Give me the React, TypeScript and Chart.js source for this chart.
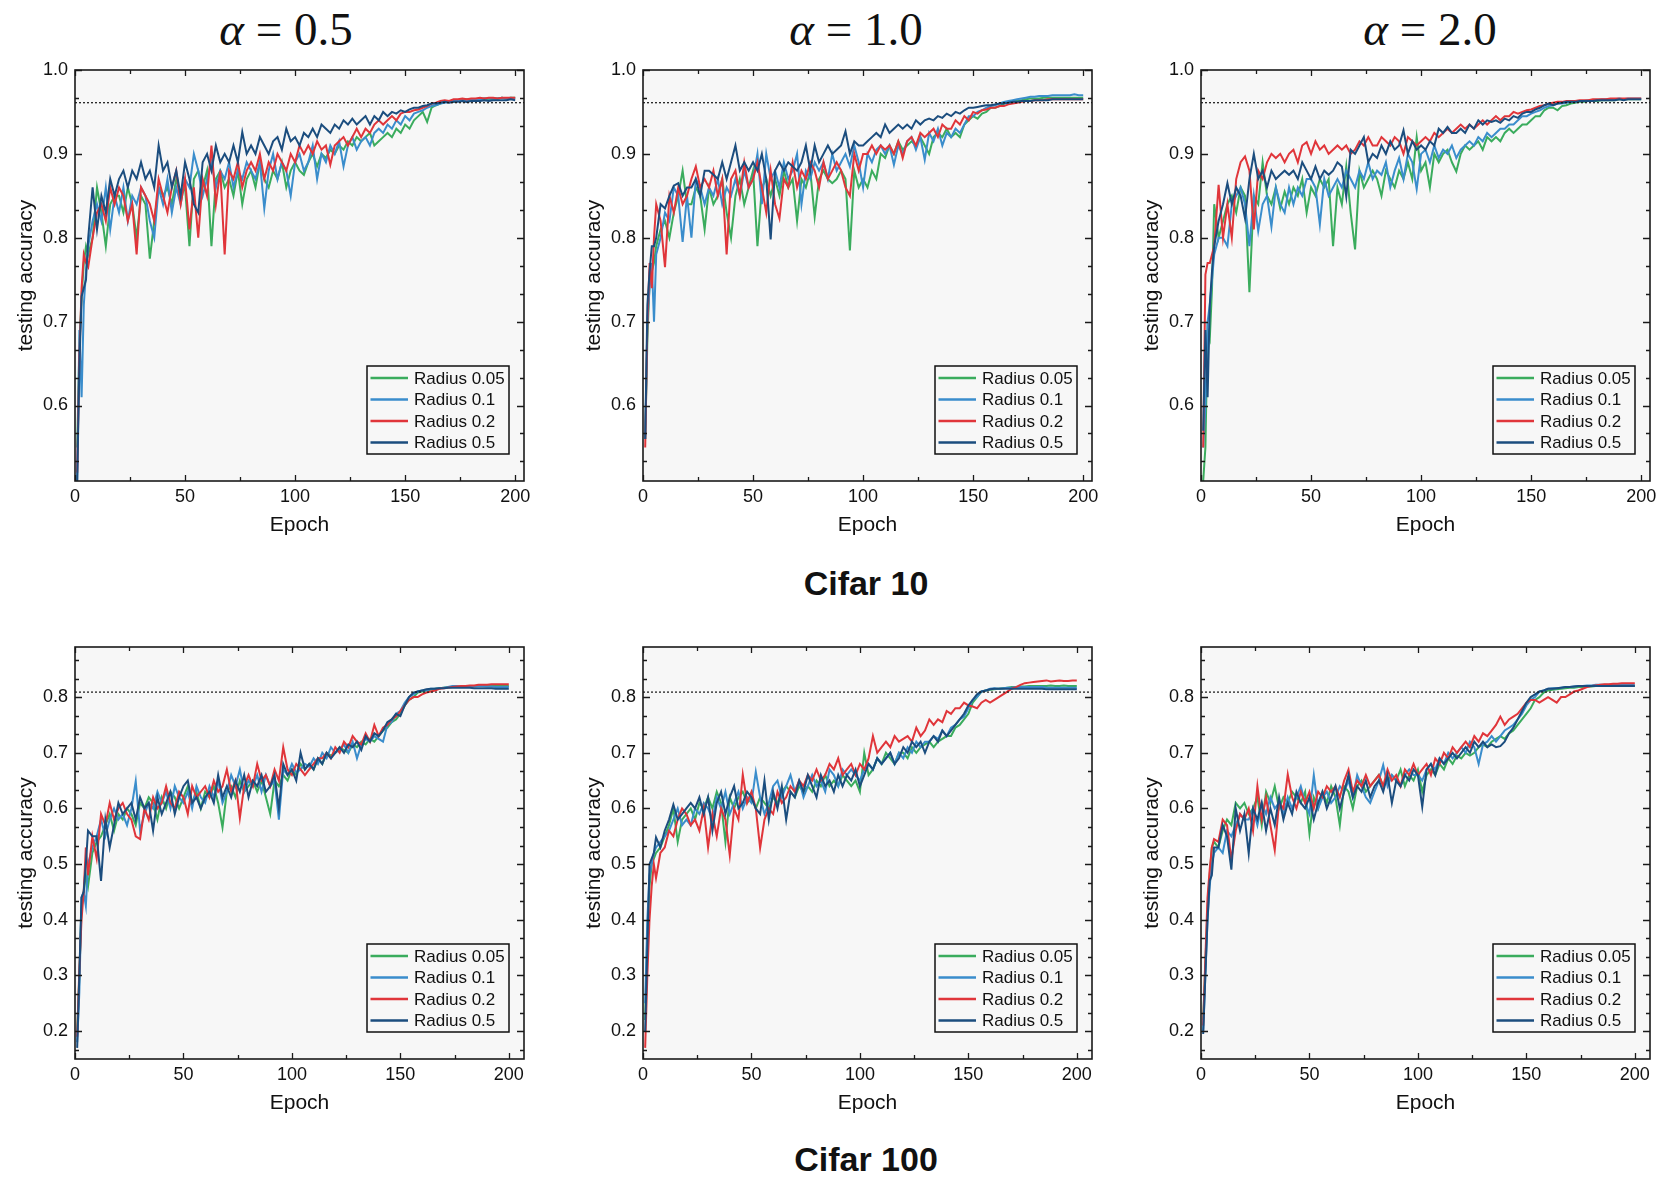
import React, { useEffect, useRef } from 'react';
import { Chart, registerables } from 'chart.js';

Chart.register(...registerables);
Chart.defaults.font.family = '"Liberation Sans", Arial, Helvetica, sans-serif';
Chart.defaults.color = '#111';

// ---------- shared axis / legend data ----------
const EPOCHS = [1, 2, 3, 4, 5, 6, 8, 10, 12, 14, 16, 18, 20,
  22, 24, 26, 28, 30, 32, 34, 36, 38, 40,
  42, 44, 46, 48, 50, 52, 54, 56, 58, 60,
  62, 64, 66, 68, 70, 72, 74, 76, 78, 80,
  82, 84, 86, 88, 90, 92, 94, 96, 98, 100,
  102, 104, 106, 108, 110, 112, 114, 116, 118, 120,
  122, 124, 126, 128, 130, 132, 134, 136, 138, 140,
  142, 144, 146, 148, 150, 152, 154, 156, 158, 160,
  162, 164, 166, 168, 170, 172, 174, 176, 178, 180,
  182, 184, 186, 188, 190, 192, 194, 196, 198, 200];

const RADIUS_LABELS = ['Radius 0.05', 'Radius 0.1', 'Radius 0.2', 'Radius 0.5'];
const SERIES_COLORS = ['#3aac5d', '#3a8dcc', '#e0353a', '#1b4d7e'];
const X_TICKS = [0, 50, 100, 150, 200];
const X_MINOR_TICKS = [25, 75, 125, 175];
const Y_TICKS_C10 = [0.6, 0.7, 0.8, 0.9, 1.0];
const Y_TICKS_C100 = [0.2, 0.3, 0.4, 0.5, 0.6, 0.7, 0.8];
const BASELINE_C10 = 0.961;
const BASELINE_C100 = 0.809;
const ALPHAS = ['0.5', '1.0', '2.0'];
const DATASET_NAMES = ['Cifar 10', 'Cifar 100'];

// ---------- Cifar 10, alpha = 0.5 ----------
const c10a05Green = [0.55, 0.67, 0.73, 0.77, 0.79, 0.78, 0.80, 0.86, 0.83, 0.79, 0.84, 0.85, 0.85,
  0.83, 0.86, 0.84, 0.80, 0.85, 0.84, 0.775, 0.82, 0.86, 0.85,
  0.86, 0.84, 0.87, 0.85, 0.86, 0.79, 0.87, 0.88, 0.86, 0.88,
  0.79, 0.87, 0.88, 0.86, 0.87, 0.85, 0.88, 0.84, 0.87, 0.88,
  0.86, 0.89, 0.87, 0.86, 0.88, 0.87, 0.89, 0.86, 0.88, 0.89,
  0.88, 0.875, 0.89, 0.90, 0.885, 0.90, 0.895, 0.905, 0.90, 0.91,
  0.905, 0.915, 0.91, 0.92, 0.915, 0.92, 0.925, 0.91, 0.915, 0.92,
  0.925, 0.92, 0.93, 0.925, 0.935, 0.93, 0.94, 0.945, 0.95, 0.938,
  0.955, 0.958, 0.96, 0.962, 0.963, 0.962, 0.964, 0.964, 0.965, 0.964,
  0.965, 0.965, 0.966, 0.965, 0.966, 0.966, 0.967, 0.966, 0.967, 0.967];
const c10a05Blue = [0.51, 0.69, 0.61, 0.72, 0.76, 0.79, 0.82, 0.84, 0.82, 0.86, 0.81, 0.85, 0.83,
  0.86, 0.82, 0.85, 0.84, 0.86, 0.85, 0.82, 0.80, 0.86, 0.84,
  0.87, 0.83, 0.86, 0.84, 0.87, 0.86, 0.90, 0.88, 0.85, 0.87,
  0.89, 0.86, 0.88, 0.87, 0.89, 0.86, 0.88, 0.87, 0.89, 0.88,
  0.87, 0.89, 0.835, 0.88, 0.90, 0.87, 0.89, 0.88, 0.85, 0.89,
  0.90, 0.88, 0.89, 0.91, 0.87, 0.90, 0.89, 0.91, 0.90, 0.915,
  0.885, 0.91, 0.92, 0.905, 0.915, 0.92, 0.91, 0.925, 0.93, 0.925,
  0.935, 0.93, 0.94, 0.935, 0.945, 0.94, 0.948, 0.95, 0.952, 0.955,
  0.957, 0.958, 0.96, 0.961, 0.962, 0.963, 0.963, 0.964, 0.964, 0.965,
  0.965, 0.965, 0.966, 0.966, 0.966, 0.966, 0.967, 0.966, 0.967, 0.966];
const c10a05Red = [0.52, 0.66, 0.74, 0.78, 0.77, 0.765, 0.80, 0.83, 0.84, 0.82, 0.86, 0.84, 0.86,
  0.85, 0.82, 0.84, 0.78, 0.86, 0.85, 0.84, 0.82, 0.87, 0.85,
  0.83, 0.86, 0.88, 0.84, 0.87, 0.81, 0.86, 0.80, 0.87, 0.85,
  0.91, 0.84, 0.88, 0.78, 0.88, 0.87, 0.89, 0.86, 0.88, 0.89,
  0.88, 0.90, 0.87, 0.89, 0.88, 0.90, 0.89, 0.88, 0.90, 0.89,
  0.91, 0.90, 0.91, 0.90, 0.915, 0.905, 0.91, 0.887, 0.91, 0.915,
  0.92, 0.91, 0.92, 0.93, 0.92, 0.93, 0.925, 0.935, 0.94, 0.935,
  0.94, 0.945, 0.94, 0.948, 0.95, 0.95, 0.952, 0.953, 0.955, 0.957,
  0.96, 0.961, 0.963, 0.964, 0.963, 0.965, 0.965, 0.966, 0.965, 0.966,
  0.966, 0.967, 0.966, 0.967, 0.967, 0.966, 0.967, 0.967, 0.967, 0.967];
const c10a05Navy = [0.51, 0.65, 0.73, 0.74, 0.75, 0.80, 0.86, 0.81, 0.85, 0.83, 0.87, 0.85, 0.87,
  0.88, 0.86, 0.88, 0.87, 0.89, 0.87, 0.88, 0.86, 0.91, 0.88,
  0.89, 0.86, 0.88, 0.85, 0.89, 0.87, 0.84, 0.83, 0.89, 0.90,
  0.88, 0.91, 0.89, 0.90, 0.89, 0.91, 0.89, 0.926, 0.90, 0.91,
  0.90, 0.92, 0.91, 0.90, 0.915, 0.92, 0.905, 0.93, 0.915, 0.92,
  0.91, 0.925, 0.92, 0.93, 0.92, 0.935, 0.93, 0.925, 0.935, 0.93,
  0.94, 0.935, 0.942, 0.935, 0.94, 0.945, 0.935, 0.945, 0.94, 0.95,
  0.945, 0.95, 0.948, 0.952, 0.95, 0.953, 0.955, 0.955, 0.957, 0.958,
  0.96, 0.96, 0.961, 0.962, 0.961, 0.962, 0.962, 0.963, 0.962, 0.963,
  0.963, 0.963, 0.964, 0.963, 0.964, 0.964, 0.964, 0.964, 0.965, 0.964];

// ---------- Cifar 10, alpha = 1.0 ----------
const c10a10Green = [0.56, 0.68, 0.75, 0.76, 0.77, 0.79, 0.81, 0.82, 0.80, 0.83, 0.85, 0.88, 0.84,
  0.84, 0.86, 0.85, 0.81, 0.86, 0.84, 0.85, 0.87, 0.83, 0.80,
  0.85, 0.87, 0.84, 0.86, 0.88, 0.79, 0.86, 0.87, 0.85, 0.87,
  0.85, 0.88, 0.86, 0.87, 0.82, 0.87, 0.86, 0.88, 0.825, 0.87,
  0.88, 0.87, 0.865, 0.87, 0.88, 0.87, 0.785, 0.88, 0.86, 0.87,
  0.86, 0.88, 0.87, 0.90, 0.895, 0.91, 0.90, 0.915, 0.905, 0.91,
  0.915, 0.91, 0.92, 0.91, 0.90, 0.92, 0.925, 0.92, 0.93, 0.92,
  0.925, 0.92, 0.935, 0.94, 0.945, 0.942, 0.948, 0.95, 0.955, 0.955,
  0.957, 0.96, 0.962, 0.963, 0.963, 0.964, 0.965, 0.966, 0.966, 0.966,
  0.967, 0.967, 0.967, 0.967, 0.967, 0.967, 0.967, 0.967, 0.967, 0.967];
const c10a10Blue = [0.56, 0.70, 0.74, 0.77, 0.70, 0.78, 0.80, 0.83, 0.82, 0.86, 0.85, 0.795, 0.85,
  0.80, 0.87, 0.86, 0.84, 0.86, 0.85, 0.87, 0.84, 0.86, 0.85,
  0.87, 0.85, 0.88, 0.86, 0.87, 0.90, 0.84, 0.90, 0.87, 0.88,
  0.86, 0.89, 0.87, 0.88, 0.90, 0.84, 0.88, 0.87, 0.89, 0.88,
  0.89, 0.87, 0.90, 0.88, 0.89, 0.90, 0.885, 0.91, 0.89, 0.86,
  0.90, 0.89, 0.905, 0.91, 0.90, 0.91, 0.887, 0.91, 0.90, 0.915,
  0.92, 0.905, 0.92, 0.893, 0.925, 0.915, 0.93, 0.91, 0.925, 0.92,
  0.93, 0.925, 0.935, 0.945, 0.945, 0.95, 0.952, 0.955, 0.957, 0.958,
  0.96, 0.962, 0.963, 0.964, 0.965, 0.966, 0.967, 0.968, 0.968, 0.969,
  0.969, 0.969, 0.97, 0.97, 0.97, 0.97, 0.97, 0.971, 0.97, 0.97];
const c10a10Red = [0.55, 0.70, 0.77, 0.74, 0.80, 0.84, 0.82, 0.765, 0.85, 0.83, 0.86, 0.84, 0.85,
  0.87, 0.885, 0.86, 0.87, 0.86, 0.88, 0.85, 0.87, 0.78, 0.87,
  0.88, 0.85, 0.89, 0.86, 0.87, 0.89, 0.86, 0.83, 0.88, 0.84,
  0.823, 0.87, 0.86, 0.89, 0.86, 0.88, 0.87, 0.89, 0.88, 0.86,
  0.89, 0.87, 0.88, 0.89, 0.88, 0.86, 0.85, 0.90, 0.88, 0.90,
  0.90, 0.91, 0.90, 0.91, 0.905, 0.91, 0.90, 0.915, 0.895, 0.915,
  0.92, 0.91, 0.925, 0.92, 0.925, 0.93, 0.92, 0.935, 0.93, 0.93,
  0.94, 0.935, 0.945, 0.94, 0.95, 0.948, 0.952, 0.953, 0.955, 0.955,
  0.957, 0.957, 0.959, 0.96, 0.961, 0.962, 0.963, 0.963, 0.964, 0.964,
  0.964, 0.965, 0.965, 0.965, 0.965, 0.965, 0.965, 0.965, 0.965, 0.965];
const c10a10Navy = [0.56, 0.72, 0.76, 0.79, 0.79, 0.80, 0.84, 0.835, 0.85, 0.862, 0.865, 0.85, 0.86,
  0.86, 0.87, 0.85, 0.88, 0.88, 0.875, 0.87, 0.89, 0.87, 0.89,
  0.91, 0.88, 0.89, 0.88, 0.89, 0.88, 0.90, 0.87, 0.798, 0.88,
  0.89, 0.88, 0.89, 0.885, 0.88, 0.89, 0.91, 0.88, 0.91, 0.89,
  0.90, 0.91, 0.90, 0.905, 0.91, 0.927, 0.90, 0.915, 0.91, 0.91,
  0.915, 0.92, 0.925, 0.92, 0.935, 0.925, 0.93, 0.935, 0.93, 0.935,
  0.93, 0.94, 0.935, 0.94, 0.942, 0.94, 0.945, 0.943, 0.948, 0.945,
  0.95, 0.948, 0.952, 0.955, 0.955, 0.956, 0.957, 0.958, 0.958, 0.959,
  0.96, 0.96, 0.961, 0.962, 0.962, 0.963, 0.963, 0.963, 0.964, 0.964,
  0.964, 0.964, 0.965, 0.965, 0.965, 0.965, 0.965, 0.965, 0.965, 0.965];

// ---------- Cifar 10, alpha = 2.0 ----------
const c10a20Green = [0.51, 0.55, 0.69, 0.68, 0.74, 0.84, 0.80, 0.82, 0.84, 0.85, 0.83, 0.86, 0.85,
  0.735, 0.85, 0.84, 0.89, 0.85, 0.84, 0.86, 0.835, 0.855, 0.84,
  0.86, 0.85, 0.87, 0.83, 0.86, 0.85, 0.87, 0.86, 0.87, 0.79,
  0.86, 0.84, 0.885, 0.83, 0.786, 0.88, 0.86, 0.87, 0.88, 0.87,
  0.85, 0.88, 0.87, 0.86, 0.88, 0.87, 0.89, 0.87, 0.92, 0.88,
  0.89, 0.86, 0.90, 0.89, 0.90, 0.905, 0.89, 0.879, 0.90, 0.91,
  0.905, 0.91, 0.915, 0.905, 0.92, 0.915, 0.92, 0.915, 0.925, 0.93,
  0.925, 0.93, 0.935, 0.935, 0.94, 0.945, 0.945, 0.952, 0.955, 0.955,
  0.952, 0.957, 0.958, 0.96, 0.961, 0.962, 0.962, 0.963, 0.963, 0.963,
  0.964, 0.964, 0.964, 0.964, 0.965, 0.965, 0.965, 0.965, 0.965, 0.965];
const c10a20Blue = [0.55, 0.60, 0.70, 0.72, 0.75, 0.78, 0.80, 0.80, 0.79, 0.84, 0.85, 0.86, 0.84,
  0.79, 0.85, 0.808, 0.84, 0.85, 0.813, 0.86, 0.84, 0.83, 0.86,
  0.84, 0.86, 0.85, 0.87, 0.87, 0.86, 0.816, 0.87, 0.85, 0.86,
  0.87, 0.86, 0.88, 0.87, 0.86, 0.88, 0.87, 0.89, 0.87, 0.88,
  0.875, 0.89, 0.86, 0.88, 0.895, 0.87, 0.90, 0.89, 0.858, 0.90,
  0.905, 0.89, 0.91, 0.895, 0.905, 0.90, 0.91, 0.895, 0.905, 0.91,
  0.915, 0.91, 0.92, 0.915, 0.925, 0.92, 0.925, 0.93, 0.93, 0.935,
  0.935, 0.94, 0.945, 0.945, 0.948, 0.95, 0.952, 0.955, 0.957, 0.958,
  0.96, 0.96, 0.961, 0.962, 0.962, 0.963, 0.963, 0.964, 0.964, 0.964,
  0.965, 0.965, 0.965, 0.965, 0.966, 0.965, 0.966, 0.966, 0.966, 0.966];
const c10a20Red = [0.55, 0.756, 0.77, 0.77, 0.78, 0.79, 0.863, 0.80, 0.84, 0.80, 0.87, 0.89, 0.897,
  0.88, 0.81, 0.88, 0.87, 0.89, 0.90, 0.895, 0.90, 0.89, 0.90,
  0.905, 0.89, 0.91, 0.914, 0.90, 0.915, 0.905, 0.91, 0.90, 0.905,
  0.91, 0.905, 0.91, 0.90, 0.905, 0.915, 0.91, 0.92, 0.91, 0.91,
  0.92, 0.915, 0.91, 0.92, 0.915, 0.90, 0.92, 0.915, 0.91, 0.915,
  0.92, 0.915, 0.925, 0.92, 0.925, 0.93, 0.925, 0.93, 0.935, 0.93,
  0.935, 0.93, 0.935, 0.94, 0.935, 0.94, 0.945, 0.94, 0.945, 0.945,
  0.95, 0.948, 0.95, 0.952, 0.953, 0.955, 0.957, 0.958, 0.96, 0.961,
  0.962, 0.962, 0.963, 0.963, 0.963, 0.964, 0.964, 0.964, 0.965, 0.965,
  0.965, 0.965, 0.966, 0.966, 0.966, 0.966, 0.966, 0.966, 0.966, 0.966];
const c10a20Navy = [0.57, 0.69, 0.61, 0.72, 0.76, 0.79, 0.82, 0.84, 0.865, 0.84, 0.86, 0.85, 0.823,
  0.87, 0.90, 0.87, 0.88, 0.86, 0.88, 0.87, 0.875, 0.88, 0.875,
  0.88, 0.87, 0.89, 0.88, 0.87, 0.885, 0.87, 0.88, 0.875, 0.88,
  0.89, 0.885, 0.849, 0.905, 0.90, 0.91, 0.92, 0.89, 0.90, 0.895,
  0.91, 0.90, 0.915, 0.905, 0.91, 0.928, 0.90, 0.915, 0.905, 0.91,
  0.905, 0.915, 0.91, 0.93, 0.925, 0.932, 0.925, 0.925, 0.93, 0.925,
  0.935, 0.93, 0.94, 0.935, 0.94, 0.938, 0.94, 0.937, 0.942, 0.94,
  0.945, 0.943, 0.948, 0.95, 0.95, 0.953, 0.955, 0.958, 0.96, 0.958,
  0.96, 0.961, 0.962, 0.962, 0.962, 0.963, 0.963, 0.963, 0.963, 0.964,
  0.964, 0.964, 0.964, 0.964, 0.965, 0.964, 0.965, 0.965, 0.965, 0.965];

// ---------- Cifar 100, alpha = 0.5 ----------
const c100a05Green = [0.20, 0.30, 0.42, 0.45, 0.48, 0.46, 0.52, 0.54, 0.55, 0.57, 0.59, 0.56, 0.59,
  0.58, 0.60, 0.59, 0.57, 0.61, 0.60, 0.62, 0.61, 0.58, 0.62,
  0.60, 0.63, 0.62, 0.60, 0.62, 0.64, 0.61, 0.63, 0.60, 0.63,
  0.62, 0.64, 0.61, 0.566, 0.63, 0.64, 0.62, 0.65, 0.63, 0.64,
  0.65, 0.63, 0.65, 0.62, 0.59, 0.65, 0.64, 0.66, 0.65, 0.67,
  0.66, 0.68, 0.67, 0.68, 0.67, 0.69, 0.68, 0.70, 0.695, 0.70,
  0.71, 0.705, 0.70, 0.715, 0.71, 0.72, 0.715, 0.725, 0.72, 0.73,
  0.74, 0.745, 0.755, 0.76, 0.77, 0.785, 0.795, 0.80, 0.808, 0.81,
  0.812, 0.813, 0.815, 0.816, 0.817, 0.818, 0.818, 0.819, 0.819, 0.82,
  0.82, 0.82, 0.82, 0.821, 0.82, 0.821, 0.82, 0.821, 0.82, 0.82];
const c100a05Blue = [0.18, 0.27, 0.44, 0.45, 0.425, 0.50, 0.53, 0.55, 0.58, 0.55, 0.58, 0.60, 0.58,
  0.59, 0.57, 0.60, 0.649, 0.56, 0.59, 0.61, 0.60, 0.63, 0.61,
  0.63, 0.60, 0.64, 0.62, 0.61, 0.63, 0.60, 0.64, 0.62, 0.61,
  0.64, 0.62, 0.65, 0.61, 0.63, 0.66, 0.64, 0.67, 0.63, 0.65,
  0.64, 0.66, 0.63, 0.66, 0.64, 0.65, 0.58, 0.67, 0.66, 0.68,
  0.665, 0.67, 0.68, 0.675, 0.69, 0.68, 0.70, 0.69, 0.71, 0.70,
  0.705, 0.715, 0.70, 0.72, 0.69, 0.715, 0.725, 0.72, 0.73, 0.725,
  0.72, 0.75, 0.755, 0.77, 0.775, 0.79, 0.80, 0.805, 0.81, 0.812,
  0.812, 0.815, 0.815, 0.816, 0.817, 0.818, 0.82, 0.82, 0.819, 0.82,
  0.82, 0.819, 0.82, 0.82, 0.819, 0.819, 0.818, 0.818, 0.818, 0.818];
const c100a05Red = [0.19, 0.31, 0.40, 0.45, 0.53, 0.48, 0.55, 0.51, 0.59, 0.57, 0.61, 0.58, 0.60,
  0.61, 0.59, 0.58, 0.55, 0.545, 0.60, 0.58, 0.62, 0.60, 0.61,
  0.64, 0.61, 0.60, 0.63, 0.62, 0.59, 0.64, 0.62, 0.63, 0.64,
  0.62, 0.65, 0.63, 0.64, 0.67, 0.63, 0.65, 0.583, 0.64, 0.66,
  0.64, 0.68, 0.65, 0.66, 0.64, 0.67, 0.65, 0.71, 0.67, 0.66,
  0.68, 0.67, 0.66, 0.67, 0.68, 0.69, 0.69, 0.70, 0.69, 0.71,
  0.70, 0.72, 0.71, 0.73, 0.72, 0.715, 0.735, 0.72, 0.75, 0.73,
  0.745, 0.75, 0.76, 0.765, 0.775, 0.785, 0.795, 0.80, 0.80, 0.805,
  0.808, 0.81, 0.812, 0.815, 0.816, 0.817, 0.818, 0.819, 0.82, 0.82,
  0.821, 0.821, 0.822, 0.822, 0.822, 0.823, 0.823, 0.823, 0.823, 0.823];
const c100a05Navy = [0.17, 0.30, 0.44, 0.45, 0.50, 0.56, 0.55, 0.55, 0.47, 0.58, 0.53, 0.57, 0.61,
  0.59, 0.60, 0.61, 0.58, 0.62, 0.60, 0.61, 0.56, 0.62, 0.59,
  0.61, 0.63, 0.59, 0.62, 0.64, 0.65, 0.61, 0.62, 0.60, 0.62,
  0.63, 0.61, 0.66, 0.62, 0.64, 0.62, 0.65, 0.63, 0.66, 0.62,
  0.65, 0.64, 0.66, 0.63, 0.64, 0.66, 0.60, 0.68, 0.66, 0.67,
  0.65, 0.70, 0.67, 0.68, 0.67, 0.69, 0.68, 0.70, 0.69, 0.70,
  0.71, 0.70, 0.715, 0.71, 0.72, 0.705, 0.73, 0.72, 0.735, 0.73,
  0.74, 0.755, 0.76, 0.77, 0.766, 0.785, 0.80, 0.808, 0.81, 0.812,
  0.814, 0.815, 0.815, 0.816, 0.816, 0.817, 0.817, 0.817, 0.817, 0.817,
  0.817, 0.816, 0.816, 0.816, 0.816, 0.816, 0.815, 0.815, 0.815, 0.815];

// ---------- Cifar 100, alpha = 1.0 ----------
const c100a10Green = [0.22, 0.38, 0.46, 0.50, 0.51, 0.52, 0.53, 0.55, 0.57, 0.60, 0.54, 0.58, 0.59,
  0.60, 0.58, 0.61, 0.60, 0.62, 0.60, 0.63, 0.61, 0.54, 0.62,
  0.60, 0.62, 0.63, 0.61, 0.62, 0.60, 0.62, 0.61, 0.60, 0.62,
  0.61, 0.63, 0.64, 0.63, 0.62, 0.64, 0.63, 0.64, 0.63, 0.65,
  0.64, 0.66, 0.64, 0.65, 0.64, 0.66, 0.65, 0.64, 0.65, 0.63,
  0.70, 0.66, 0.67, 0.69, 0.68, 0.70, 0.69, 0.68, 0.70, 0.70,
  0.69, 0.71, 0.70, 0.71, 0.715, 0.72, 0.71, 0.72, 0.725, 0.73,
  0.73, 0.745, 0.75, 0.76, 0.77, 0.79, 0.80, 0.81, 0.812, 0.813,
  0.814, 0.815, 0.816, 0.817, 0.818, 0.818, 0.819, 0.819, 0.82, 0.82,
  0.82, 0.82, 0.82, 0.821, 0.82, 0.82, 0.821, 0.82, 0.82, 0.82];
const c100a10Blue = [0.25, 0.40, 0.48, 0.50, 0.52, 0.53, 0.54, 0.55, 0.56, 0.58, 0.60, 0.57, 0.58,
  0.57, 0.60, 0.59, 0.61, 0.60, 0.58, 0.62, 0.60, 0.63, 0.59,
  0.61, 0.63, 0.60, 0.62, 0.61, 0.666, 0.62, 0.59, 0.61, 0.64,
  0.65, 0.62, 0.64, 0.66, 0.63, 0.65, 0.62, 0.64, 0.66, 0.64,
  0.65, 0.63, 0.67, 0.66, 0.64, 0.67, 0.66, 0.67, 0.66, 0.65,
  0.67, 0.68, 0.67, 0.69, 0.68, 0.69, 0.70, 0.68, 0.70, 0.69,
  0.71, 0.70, 0.72, 0.71, 0.72, 0.72, 0.73, 0.725, 0.74, 0.73,
  0.745, 0.75, 0.76, 0.765, 0.78, 0.795, 0.80, 0.81, 0.812, 0.815,
  0.816, 0.815, 0.816, 0.817, 0.817, 0.818, 0.818, 0.818, 0.818, 0.818,
  0.818, 0.818, 0.817, 0.817, 0.817, 0.817, 0.817, 0.817, 0.817, 0.817];
const c100a10Red = [0.17, 0.30, 0.40, 0.46, 0.50, 0.475, 0.52, 0.53, 0.56, 0.55, 0.58, 0.60, 0.59,
  0.57, 0.58, 0.56, 0.60, 0.53, 0.59, 0.55, 0.60, 0.58, 0.516,
  0.60, 0.58, 0.661, 0.61, 0.63, 0.60, 0.529, 0.58, 0.60, 0.59,
  0.63, 0.61, 0.62, 0.64, 0.63, 0.65, 0.64, 0.66, 0.65, 0.67,
  0.65, 0.66, 0.68, 0.67, 0.69, 0.66, 0.67, 0.68, 0.66, 0.68,
  0.67, 0.69, 0.73, 0.70, 0.71, 0.72, 0.71, 0.73, 0.72, 0.725,
  0.73, 0.72, 0.745, 0.73, 0.74, 0.76, 0.75, 0.76, 0.755, 0.775,
  0.77, 0.78, 0.78, 0.79, 0.785, 0.783, 0.78, 0.79, 0.795, 0.79,
  0.795, 0.80, 0.805, 0.81, 0.815, 0.818, 0.822, 0.825, 0.826, 0.827,
  0.828, 0.829, 0.83, 0.828, 0.829, 0.83, 0.829, 0.829, 0.83, 0.83];
const c100a10Navy = [0.20, 0.35, 0.50, 0.51, 0.52, 0.548, 0.53, 0.56, 0.58, 0.607, 0.58, 0.59, 0.60,
  0.61, 0.60, 0.62, 0.59, 0.62, 0.56, 0.61, 0.63, 0.59, 0.62,
  0.64, 0.60, 0.61, 0.63, 0.62, 0.60, 0.59, 0.65, 0.58, 0.63,
  0.60, 0.64, 0.58, 0.63, 0.62, 0.65, 0.63, 0.66, 0.64, 0.62,
  0.66, 0.64, 0.65, 0.63, 0.66, 0.64, 0.66, 0.65, 0.67, 0.64,
  0.66, 0.68, 0.67, 0.69, 0.68, 0.69, 0.70, 0.68, 0.69, 0.71,
  0.70, 0.72, 0.71, 0.72, 0.70, 0.72, 0.73, 0.72, 0.74, 0.73,
  0.74, 0.75, 0.76, 0.77, 0.785, 0.795, 0.805, 0.81, 0.812, 0.814,
  0.815, 0.815, 0.815, 0.815, 0.815, 0.815, 0.815, 0.815, 0.815, 0.815,
  0.815, 0.815, 0.814, 0.814, 0.814, 0.814, 0.814, 0.814, 0.814, 0.814];

// ---------- Cifar 100, alpha = 2.0 ----------
const c100a20Green = [0.22, 0.32, 0.42, 0.48, 0.53, 0.54, 0.53, 0.56, 0.58, 0.57, 0.61, 0.60, 0.61,
  0.59, 0.60, 0.62, 0.57, 0.63, 0.61, 0.64, 0.60, 0.62, 0.61,
  0.63, 0.62, 0.61, 0.63, 0.555, 0.62, 0.60, 0.63, 0.61, 0.64,
  0.62, 0.57, 0.64, 0.63, 0.60, 0.64, 0.65, 0.63, 0.64, 0.65,
  0.66, 0.64, 0.65, 0.66, 0.65, 0.67, 0.64, 0.66, 0.65, 0.67,
  0.63, 0.66, 0.67, 0.66, 0.68, 0.67, 0.69, 0.68, 0.695, 0.69,
  0.70, 0.695, 0.70, 0.71, 0.715, 0.71, 0.72, 0.725, 0.73, 0.725,
  0.735, 0.74, 0.75, 0.76, 0.77, 0.78, 0.795, 0.80, 0.808, 0.812,
  0.813, 0.814, 0.815, 0.816, 0.817, 0.817, 0.818, 0.818, 0.819, 0.819,
  0.82, 0.82, 0.82, 0.82, 0.82, 0.82, 0.82, 0.82, 0.82, 0.82];
const c100a20Blue = [0.20, 0.30, 0.40, 0.46, 0.50, 0.52, 0.53, 0.52, 0.56, 0.55, 0.57, 0.59, 0.58,
  0.58, 0.60, 0.57, 0.61, 0.59, 0.62, 0.60, 0.61, 0.59, 0.62,
  0.60, 0.62, 0.64, 0.61, 0.59, 0.66, 0.60, 0.62, 0.63, 0.61,
  0.62, 0.64, 0.63, 0.65, 0.62, 0.66, 0.64, 0.62, 0.61, 0.63,
  0.65, 0.678, 0.64, 0.66, 0.65, 0.64, 0.66, 0.67, 0.66, 0.66,
  0.65, 0.67, 0.68, 0.67, 0.69, 0.68, 0.70, 0.69, 0.70, 0.71,
  0.70, 0.72, 0.71, 0.68, 0.715, 0.72, 0.73, 0.72, 0.73, 0.74,
  0.745, 0.75, 0.76, 0.77, 0.785, 0.795, 0.80, 0.81, 0.812, 0.815,
  0.816, 0.816, 0.817, 0.818, 0.818, 0.819, 0.82, 0.82, 0.821, 0.821,
  0.822, 0.822, 0.822, 0.822, 0.822, 0.822, 0.822, 0.822, 0.822, 0.822];
const c100a20Red = [0.21, 0.33, 0.44, 0.49, 0.53, 0.545, 0.54, 0.58, 0.57, 0.508, 0.56, 0.59, 0.58,
  0.60, 0.56, 0.64, 0.58, 0.62, 0.57, 0.525, 0.61, 0.60, 0.661,
  0.62, 0.60, 0.63, 0.61, 0.63, 0.60, 0.63, 0.62, 0.64, 0.63,
  0.64, 0.62, 0.65, 0.67, 0.63, 0.65, 0.64, 0.66, 0.64, 0.65,
  0.66, 0.64, 0.67, 0.65, 0.66, 0.64, 0.67, 0.66, 0.68, 0.66,
  0.67, 0.68, 0.66, 0.69, 0.68, 0.70, 0.69, 0.71, 0.70, 0.71,
  0.72, 0.71, 0.73, 0.72, 0.735, 0.73, 0.74, 0.75, 0.765, 0.75,
  0.76, 0.765, 0.77, 0.78, 0.79, 0.795, 0.795, 0.79, 0.795, 0.80,
  0.795, 0.79, 0.80, 0.80, 0.805, 0.81, 0.812, 0.815, 0.818, 0.82,
  0.821, 0.822, 0.823, 0.823, 0.824, 0.824, 0.825, 0.825, 0.825, 0.825];
const c100a20Navy = [0.195, 0.30, 0.40, 0.47, 0.48, 0.53, 0.53, 0.57, 0.55, 0.49, 0.60, 0.56, 0.59,
  0.519, 0.60, 0.58, 0.61, 0.56, 0.60, 0.57, 0.62, 0.58, 0.61,
  0.59, 0.63, 0.61, 0.60, 0.62, 0.58, 0.61, 0.63, 0.60, 0.62,
  0.64, 0.60, 0.63, 0.66, 0.62, 0.64, 0.63, 0.65, 0.62, 0.64,
  0.65, 0.63, 0.66, 0.61, 0.65, 0.64, 0.66, 0.65, 0.67, 0.66,
  0.603, 0.67, 0.68, 0.66, 0.69, 0.68, 0.69, 0.70, 0.69, 0.70,
  0.71, 0.70, 0.72, 0.71, 0.72, 0.71, 0.715, 0.71, 0.712, 0.72,
  0.735, 0.745, 0.76, 0.775, 0.79, 0.80, 0.805, 0.81, 0.812, 0.815,
  0.815, 0.816, 0.817, 0.818, 0.818, 0.819, 0.82, 0.82, 0.82, 0.82,
  0.82, 0.82, 0.82, 0.82, 0.82, 0.82, 0.82, 0.82, 0.82, 0.82];

// ---------- layout (positions only) ----------
const PAD_L = 75;
const PAD_T = 20;
const PAD_R = 20;
const PAD_B = 70;

const PANELS = [
  { left: 75, top: 70, w: 449, h: 411, xMax: 204, yMin: 0.51, yMax: 1.0, yTicks: Y_TICKS_C10, base: BASELINE_C10, series: [c10a05Green, c10a05Blue, c10a05Red, c10a05Navy] },
  { left: 643, top: 70, w: 449, h: 411, xMax: 204, yMin: 0.51, yMax: 1.0, yTicks: Y_TICKS_C10, base: BASELINE_C10, series: [c10a10Green, c10a10Blue, c10a10Red, c10a10Navy] },
  { left: 1201, top: 70, w: 449, h: 411, xMax: 204, yMin: 0.51, yMax: 1.0, yTicks: Y_TICKS_C10, base: BASELINE_C10, series: [c10a20Green, c10a20Blue, c10a20Red, c10a20Navy] },
  { left: 75, top: 647, w: 449, h: 412, xMax: 207, yMin: 0.15, yMax: 0.89, yTicks: Y_TICKS_C100, base: BASELINE_C100, series: [c100a05Green, c100a05Blue, c100a05Red, c100a05Navy] },
  { left: 643, top: 647, w: 449, h: 412, xMax: 207, yMin: 0.15, yMax: 0.89, yTicks: Y_TICKS_C100, base: BASELINE_C100, series: [c100a10Green, c100a10Blue, c100a10Red, c100a10Navy] },
  { left: 1201, top: 647, w: 449, h: 412, xMax: 207, yMin: 0.15, yMax: 0.89, yTicks: Y_TICKS_C100, base: BASELINE_C100, series: [c100a20Green, c100a20Blue, c100a20Red, c100a20Navy] },
];

const TITLE_CENTERS = [286, 856, 1430];
const PLOT_BG = '#f7f7f7';

function minorTicks(major: number[], lo: number, hi: number) {
  const step = major[1] - major[0];
  const out: number[] = [];
  for (let i = -6; i <= major.length * 3 + 3; i++) {
    if (i % 3 === 0) continue;
    const v = major[0] + (i * step) / 3;
    if (v >= lo - 1e-9 && v <= hi + 1e-9) out.push(v);
  }
  return out;
}

const boxAxesPlugin = {
  id: 'boxAxes',
  beforeDraw(chart: any, _args: any, o: any) {
    const { ctx, chartArea: a } = chart;
    ctx.save();
    ctx.fillStyle = o.bg;
    ctx.fillRect(a.left, a.top, a.right - a.left, a.bottom - a.top);
    ctx.restore();
  },
  afterDraw(chart: any, _args: any, o: any) {
    const { ctx, chartArea: a, scales } = chart;
    const xs = scales.x;
    const ys = scales.y;
    ctx.save();
    ctx.strokeStyle = '#1a1a1a';
    ctx.lineWidth = 1.3;
    ctx.beginPath();
    const yTick = (v: number, len: number) => {
      const py = Math.round(ys.getPixelForValue(v)) + 0.5;
      ctx.moveTo(a.left, py); ctx.lineTo(a.left + len, py);
      ctx.moveTo(a.right, py); ctx.lineTo(a.right - len, py);
    };
    const xTick = (v: number, len: number) => {
      const px = Math.round(xs.getPixelForValue(v)) + 0.5;
      ctx.moveTo(px, a.bottom); ctx.lineTo(px, a.bottom - len);
      ctx.moveTo(px, a.top); ctx.lineTo(px, a.top + len);
    };
    o.yMajor.forEach((v: number) => yTick(v, 7));
    o.yMinor.forEach((v: number) => yTick(v, 4));
    o.xMajor.forEach((v: number) => xTick(v, 6));
    o.xMinor.forEach((v: number) => xTick(v, 4));
    ctx.stroke();
    ctx.lineWidth = 1.6;
    ctx.strokeRect(a.left, a.top, a.right - a.left, a.bottom - a.top);

    // legend box
    const items = chart.data.datasets.filter((d: any) => d.label);
    const bw = 142, bh = 88;
    const bx = a.right - 15 - bw;
    const by = a.bottom - 27 - bh;
    ctx.fillStyle = o.bg;
    ctx.fillRect(bx, by, bw, bh);
    ctx.lineWidth = 1.5;
    ctx.strokeStyle = '#111';
    ctx.strokeRect(bx, by, bw, bh);
    ctx.font = '17px "Liberation Sans", Arial, sans-serif';
    ctx.textBaseline = 'middle';
    items.forEach((d: any, i: number) => {
      const cy = by + 12 + i * 21.5;
      ctx.strokeStyle = d.borderColor;
      ctx.lineWidth = 2.5;
      ctx.beginPath();
      ctx.moveTo(bx + 3.5, cy);
      ctx.lineTo(bx + 41, cy);
      ctx.stroke();
      ctx.fillStyle = '#111';
      ctx.fillText(d.label, bx + 47, cy + 1);
    });
    ctx.restore();
  },
};

function Panel({ cfg }: { cfg: any }) {
  const ref = useRef<HTMLCanvasElement>(null);
  const W = PAD_L + cfg.w + PAD_R;
  const H = PAD_T + cfg.h + PAD_B;
  useEffect(() => {
    const datasets: any[] = cfg.series.map((vals: number[], i: number) => ({
      label: RADIUS_LABELS[i],
      data: EPOCHS.map((e, j) => ({ x: e, y: vals[j] })),
      borderColor: SERIES_COLORS[i],
      backgroundColor: SERIES_COLORS[i],
      borderWidth: 2,
      pointRadius: 0,
      tension: 0,
      fill: false,
      order: 3 - i,
    }));
    datasets.push({
      label: '',
      data: [{ x: 0, y: cfg.base }, { x: cfg.xMax, y: cfg.base }],
      borderColor: '#111',
      borderWidth: 1.2,
      borderDash: [2, 2],
      pointRadius: 0,
      fill: false,
      order: -1,
    });
    const chart = new Chart(ref.current as HTMLCanvasElement, {
      type: 'line',
      data: { datasets },
      plugins: [boxAxesPlugin],
      options: {
        responsive: false,
        animation: false,
        devicePixelRatio: 1,
        events: [],
        layout: { padding: { left: 0, top: PAD_T, right: PAD_R, bottom: 0 } },
        plugins: {
          legend: { display: false },
          tooltip: { enabled: false },
          boxAxes: {
            bg: PLOT_BG,
            yMajor: cfg.yTicks,
            yMinor: minorTicks(cfg.yTicks, cfg.yMin, cfg.yMax),
            xMajor: X_TICKS,
            xMinor: X_MINOR_TICKS,
          },
        } as any,
        scales: {
          x: {
            type: 'linear',
            min: 0,
            max: cfg.xMax,
            grid: { display: false, drawTicks: false },
            border: { display: false },
            afterBuildTicks: (s: any) => { s.ticks = X_TICKS.map((v) => ({ value: v })); },
            afterFit: (s: any) => { s.height = PAD_B; },
            ticks: { font: { size: 18 }, color: '#111', padding: 5, maxRotation: 0, autoSkip: false, callback: (v: any) => String(v) },
            title: { display: true, text: 'Epoch', font: { size: 21 }, color: '#111', padding: { top: 0, bottom: 13 } },
          },
          y: {
            type: 'linear',
            min: cfg.yMin,
            max: cfg.yMax,
            grid: { display: false, drawTicks: false },
            border: { display: false },
            afterBuildTicks: (s: any) => { s.ticks = cfg.yTicks.map((v: number) => ({ value: v })); },
            afterFit: (s: any) => { s.width = PAD_L; },
            ticks: { font: { size: 18 }, color: '#111', padding: 7, autoSkip: false, callback: (v: any) => Number(v).toFixed(1) },
            title: { display: true, text: 'testing accuracy', font: { size: 21 }, color: '#111', padding: { top: 14, bottom: 0 } },
          },
        },
      } as any,
    });
    return () => chart.destroy();
  }, []);
  return (
    <canvas
      ref={ref}
      width={W}
      height={H}
      style={{ position: 'absolute', left: cfg.left - PAD_L, top: cfg.top - PAD_T, width: W, height: H }}
    />
  );
}

export default function App() {
  return (
    <div style={{ position: 'absolute', left: 0, top: 0, width: 1661, height: 1189, background: '#fff', overflow: 'hidden' }}>
      {ALPHAS.map((a, i) => (
        <div
          key={a}
          style={{
            position: 'absolute', left: TITLE_CENTERS[i] - 150, top: 6, width: 300, textAlign: 'center',
            fontFamily: '"Liberation Serif", "Times New Roman", serif', fontSize: 47, lineHeight: '47px', color: '#111',
          }}
        >
          <span style={{ fontStyle: 'italic' }}>α</span>{' = '}{a}
        </div>
      ))}
      <div style={{ position: 'absolute', left: 666, width: 400, top: 566, textAlign: 'center', fontFamily: '"Liberation Sans", Arial, sans-serif', fontWeight: 'bold', fontSize: 34, lineHeight: '34px', color: '#111' }}>
        {DATASET_NAMES[0]}
      </div>
      <div style={{ position: 'absolute', left: 666, width: 400, top: 1142, textAlign: 'center', fontFamily: '"Liberation Sans", Arial, sans-serif', fontWeight: 'bold', fontSize: 34, lineHeight: '34px', color: '#111' }}>
        {DATASET_NAMES[1]}
      </div>
      {PANELS.map((p, i) => <Panel key={i} cfg={p} />)}
    </div>
  );
}
